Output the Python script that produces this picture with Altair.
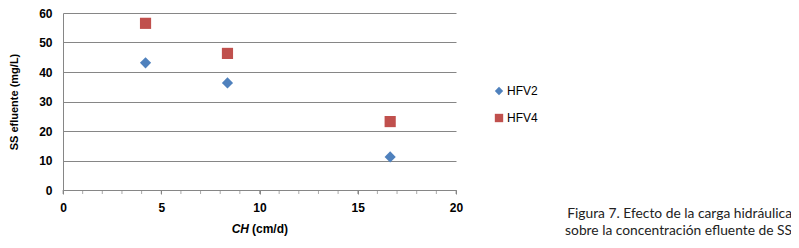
import altair as alt
import pandas as pd

ch = [4.2, 8.37, 16.65]
hfv2 = [43.1, 36.3, 11.2]
hfv4 = [56.5, 46.3, 23.2]
series = ["HFV2", "HFV4"]
colors = ["#4F81BD", "#C0504D"]
shapes = ["diamond", "square"]
x_title = ["CH", "(cm/d)"]
caption = ["Figura 7. Efecto de la carga hidráulica", "sobre la concentración efluente de SS"]

rows = []
for name, vals in zip(series, [hfv2, hfv4]):
    for x, y in zip(ch, vals):
        rows.append({"CH": x, "SS": y, "Serie": name})
df = pd.DataFrame(rows)

axis_font = "Liberation Sans"

points = alt.Chart(df).mark_point(filled=True, opacity=1, size=125).encode(
    x=alt.X("CH:Q", scale=alt.Scale(domain=[0, 20], nice=False),
            axis=alt.Axis(title=None, values=[0, 5, 10, 15, 20], grid=False,
                          domainColor="#868686", tickColor="#868686", tickSize=4,
                          labelFont=axis_font, labelFontWeight="bold", labelFontSize=12,
                          labelColor="#000000", labelPadding=8)),
    y=alt.Y("SS:Q", scale=alt.Scale(domain=[0, 60], nice=False),
            axis=alt.Axis(title="SS efluente (mg/L)", values=[0, 10, 20, 30, 40, 50, 60],
                          grid=True, gridColor="#868686", domainColor="#868686",
                          ticks=False, labelPadding=11,
                          labelFont=axis_font, labelFontWeight="bold", labelFontSize=12,
                          labelColor="#000000",
                          titleFont=axis_font, titleFontWeight="bold", titleFontSize=11,
                          titleColor="#000000", titlePadding=19)),
    color=alt.Color("Serie:N", scale=alt.Scale(domain=series, range=colors),
                    legend=alt.Legend(title=None, orient="none", legendX=430, legendY=72,
                                      labelFont=axis_font, labelFontSize=12,
                                      labelColor="#000000", rowPadding=15, symbolSize=70,
                                      labelOffset=2)),
    shape=alt.Shape("Serie:N", scale=alt.Scale(domain=series, range=shapes)),
)

minor = alt.Chart(pd.DataFrame({"t": list(range(0, 21))})).mark_tick(
    color="#868686", orient="vertical", size=4, thickness=1
).encode(
    x=alt.X("t:Q", scale=alt.Scale(domain=[0, 20], nice=False)),
    y=alt.value(179),
)

xt1 = alt.Chart(pd.DataFrame({"t": [x_title[0]]})).mark_text(
    align="right", baseline="alphabetic", font=axis_font, fontSize=12,
    fontStyle="italic", fontWeight="bold", color="#000000"
).encode(x=alt.value(186), y=alt.value(220), text="t:N")

xt2 = alt.Chart(pd.DataFrame({"t": [x_title[1]]})).mark_text(
    align="left", baseline="alphabetic", font=axis_font, fontSize=12,
    fontWeight="bold", color="#000000"
).encode(x=alt.value(189), y=alt.value(220), text="t:N")

cap = alt.Chart(pd.DataFrame({"line": ["\n".join(caption)]})).mark_text(
    align="right", baseline="alphabetic", font="Lato", fontSize=13.8, color="#222222",
    lineBreak="\n", lineHeight=17
).encode(
    x=alt.value(729),
    y=alt.value(205),
    text="line:N",
)

chart = alt.layer(points, minor, xt1, xt2, cap).properties(
    width=393, height=177,
    autosize=alt.AutoSizeParams(type="none"),
    padding={"left": 55, "top": 5, "right": 335, "bottom": 58},
).configure_view(stroke=None).configure_axis(labelFlush=False)

chart.save("out.html", embed_options={"renderer": "svg", "actions": False})
